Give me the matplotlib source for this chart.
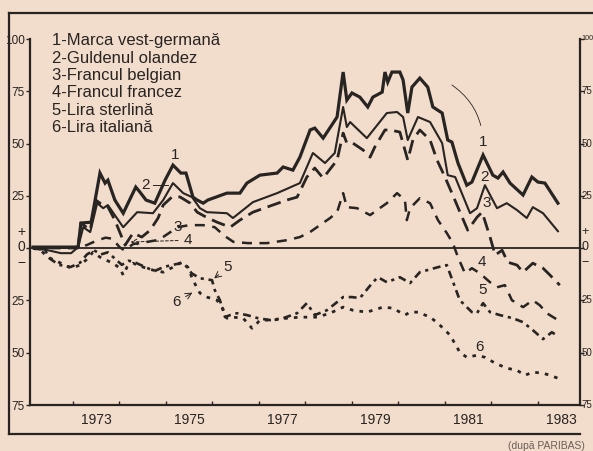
import matplotlib
matplotlib.use("Agg")
import matplotlib.pyplot as plt
from matplotlib.lines import Line2D

# --- data: % change vs. start of 1972 ---
s1_x = [1972.14, 1973.11, 1973.17, 1973.39, 1973.58, 1973.69, 1973.75, 1973.90, 1974.08, 1974.35, 1974.44,
        1974.57, 1974.76, 1974.98, 1975.15, 1975.32, 1975.43, 1975.58, 1975.67, 1975.80, 1975.90, 1976.31,
        1976.59, 1976.74, 1977.02, 1977.39, 1977.52, 1977.73, 1977.88, 1978.10, 1978.20, 1978.38, 1978.68,
        1978.81, 1978.89, 1979.00, 1979.17, 1979.34, 1979.45, 1979.65, 1979.71, 1979.77, 1979.86, 1980.03,
        1980.10, 1980.20, 1980.29, 1980.46, 1980.63, 1980.74, 1980.94, 1981.06, 1981.15, 1981.28, 1981.47,
        1981.58, 1981.82, 1982.03, 1982.14, 1982.25, 1982.40, 1982.68, 1982.87, 1983.00, 1983.15, 1983.43]
s1_y = [0.5, 0.5, 12, 12.4, 35.9, 31.1, 32.5, 23, 16.7, 29.2, 26.8, 23, 21.5, 32.5, 39.7, 35.9, 35.9, 24.4,
        23, 21.5, 23, 26.3, 26.3, 31.1, 34.9, 35.9, 38.8, 37.3, 43.5, 56.5, 57.4, 52.6, 62.7, 84.2, 70.8, 74.2,
        72.2, 67.5, 72.2, 74.6, 84.2, 79.4, 84.2, 84.2, 80.4, 64.6, 77, 81.3, 77, 67.5, 64.6, 51.7, 50.7, 40.7,
        30.1, 31.6, 44.5, 34.9, 33.5, 36.4, 31.1, 25.4, 34, 31.6, 31.1, 21.5]

s2_x = [1972.14, 1972.46, 1972.74, 1972.96, 1973.11, 1973.22, 1973.37, 1973.52, 1973.65, 1973.75, 1974.08,
        1974.38, 1974.72, 1974.94, 1975.15, 1975.37, 1975.56, 1975.73, 1975.88, 1976.31, 1976.44, 1976.87,
        1977.39, 1977.88, 1978.16, 1978.42, 1978.63, 1978.81, 1978.89, 1978.96, 1979.32, 1979.75, 1979.97,
        1980.10, 1980.20, 1980.42, 1980.68, 1980.94, 1981.06, 1981.22, 1981.54, 1981.69, 1981.86, 1982.12,
        1982.33, 1982.55, 1982.76, 1982.89, 1983.11, 1983.43]
s2_y = [0, -1, -2.4, -2.4, 0.5, 10, 7.7, 21.5, 19.1, 20.6, 10, 17.2, 16.7, 23, 31.1, 26.3, 24.4, 19.1, 17.2,
        16.7, 14.4, 22, 26.3, 31.1, 45.5, 40.7, 45.5, 67.5, 57.9, 60.3, 52.6, 64.6, 65.1, 62.7, 51.7, 62.7,
        60.3, 50.2, 34.9, 34, 16.7, 19.1, 30.1, 19.1, 21.5, 18.2, 14.4, 19.6, 16.7, 8.1]

s3_x = [1972.14, 1973.11, 1973.17, 1973.37, 1973.49, 1973.58, 1973.73, 1973.90, 1974.12, 1974.29, 1974.48,
        1974.66, 1974.83, 1974.94, 1975.13, 1975.30, 1975.52, 1975.67, 1975.90, 1976.10, 1976.38, 1976.59,
        1976.87, 1977.17, 1977.60, 1977.82, 1978.03, 1978.20, 1978.38, 1978.68, 1978.81, 1978.89, 1979.02,
        1979.24, 1979.39, 1979.49, 1979.71, 1979.82, 1980.03, 1980.20, 1980.31, 1980.46, 1980.68, 1980.83,
        1981.00, 1981.15, 1981.37, 1981.49, 1981.69, 1981.80, 1981.97, 1982.08, 1982.23, 1982.35, 1982.55,
        1982.68, 1982.89, 1983.11, 1983.26, 1983.47]
s3_y = [0, 0.5, 12, 8.6, 23, 21.5, 20.6, 13.4, 1.4, 7.2, 5.3, 8.6, 14.4, 20.6, 24.5, 24.5, 21.5, 17.2, 14.4,
        12.4, 10, 13.4, 17.2, 19.6, 23, 24.4, 34, 38.3, 33.5, 42.1, 55, 50.2, 50.2, 46.9, 43.5, 48.3, 56.5,
        56.5, 55.5, 42.1, 51.7, 56.5, 51.7, 42.1, 34, 26.3, 14.8, 8.6, 14.8, 17.2, 5.3, -3.3, -1, -6.7, -8.1,
        -11.5, -7.2, -9.6, -12.9, -17.7]

s4_x = [1972.14, 1973.11, 1973.30, 1973.50, 1973.70, 1973.85, 1974.00, 1974.10, 1974.30, 1974.60, 1974.85,
        1975.05, 1975.25, 1975.50, 1975.80, 1976.05, 1976.25, 1976.45, 1976.76, 1977.17, 1977.60, 1977.88,
        1978.10, 1978.31, 1978.53, 1978.68, 1978.81, 1978.89, 1979.11, 1979.39, 1979.54, 1979.75, 1979.97,
        1980.14, 1980.18, 1980.25, 1980.46, 1980.68, 1980.85, 1981.04, 1981.17, 1981.28, 1981.43, 1981.58,
        1981.75, 1981.97, 1982.12, 1982.29, 1982.44, 1982.68, 1982.89, 1983.04, 1983.19, 1983.43]
s4_y = [0, 0, 1.5, 3.5, 5, 4.5, 0.5, -1, 2, 3, 4, 7, 10, 11, 11, 10, 6, 3, 2.4, 2.4, 3.8, 5.3, 7.7, 11, 14.4,
        17.2, 26.3, 19.6, 19.1, 15.8, 18.2, 21.5, 26.3, 23, 13.4, 19.1, 23.9, 21.5, 13.4, 7.2, 2.4, -4.3, -12,
        -9.6, -12, -16.3, -18.7, -17.7, -24.9, -28.2, -24.9, -27.3, -31.1, -34.4]

s5_x = [1972.14, 1972.40, 1972.50, 1972.70, 1972.95, 1973.15, 1973.30, 1973.45, 1973.60, 1973.75, 1973.90,
        1974.05, 1974.20, 1974.35, 1974.55, 1974.75, 1974.95, 1975.15, 1975.35, 1975.45, 1975.55, 1975.73,
        1975.99, 1976.05, 1976.16, 1976.27, 1976.38, 1976.53, 1976.74, 1976.98, 1977.24, 1977.52, 1977.82,
        1978.03, 1978.20, 1978.46, 1978.68, 1978.81, 1979.00, 1979.17, 1979.45, 1979.56, 1979.75, 1980.03,
        1980.25, 1980.46, 1980.85, 1981.04, 1981.32, 1981.58, 1981.69, 1981.82, 1981.97, 1982.18, 1982.46,
        1982.68, 1982.89, 1983.11, 1983.30, 1983.43]
s5_y = [0, -1, -5, -8, -9, -7, -3, -1, -3, -2, -5, -8, -6, -7, -9, -11, -9, -8, -7, -9, -12, -14.4, -15.3,
        -20.1, -24.9, -33, -32, -31.1, -32, -33.5, -34.4, -33.5, -31.1, -26.3, -32, -29.7, -25.8, -23.4,
        -23.4, -23.9, -16.3, -13.9, -16.3, -13.9, -16.7, -11.5, -9.1, -8.1, -24.9, -30.6, -31.1, -26.3,
        -30.6, -32, -33.5, -35.4, -39.2, -43.5, -40.2, -42.1]

s6_x = [1972.14, 1972.30, 1972.46, 1972.74, 1972.96, 1973.15, 1973.28, 1973.43, 1973.58, 1973.71, 1973.86,
        1974.01, 1974.08, 1974.16, 1974.29, 1974.51, 1974.72, 1974.94, 1975.15, 1975.34, 1975.47, 1975.58,
        1975.73, 1975.88, 1976.10, 1976.27, 1976.31, 1976.44, 1976.66, 1976.85, 1976.96, 1977.02, 1977.30,
        1977.60, 1977.88, 1978.25, 1978.53, 1978.81, 1979.02, 1979.32, 1979.67, 1979.88, 1980.14, 1980.25,
        1980.42, 1980.68, 1980.85, 1981.11, 1981.32, 1981.47, 1981.69, 1981.86, 1982.08, 1982.33, 1982.55,
        1982.72, 1982.89, 1983.11, 1983.26, 1983.43]
s6_y = [0, -1, -4.3, -7.2, -9.6, -8.1, -5.7, -1.9, -4.3, -5.7, -7.2, -9.6, -12.9, -9.1, -7.2, -9.1, -10.5,
        -11.5, -9.1, -6.7, -9.1, -15.3, -21.5, -23.4, -24.9, -30.6, -33.5, -33, -33.5, -38.3, -35.9, -34.4,
        -34.4, -33.5, -33, -33, -31.1, -28.2, -29.7, -30.6, -28.2, -28.7, -32, -30.6, -30.6, -33, -35.9,
        -41.6, -49.8, -52.2, -51.2, -52.2, -55, -57.4, -58.4, -60.8, -59.3, -59.8, -60.8, -62.2]

legend_lines = ["1-Marca vest-germană", "2-Guldenul olandez", "3-Francul belgian",
                "4-Francul francez", "5-Lira sterlină", "6-Lira italiană"]
year_labels = ["1973", "1975", "1977", "1979", "1981", "1983"]
y_ticks = [100, 75, 50, 25, 0, -25, -50, -75]
y_labels = ["100", "75", "50", "25", "", "25", "50", "75"]

PAPER = "#f2dccb"
INK = "#282422"

plt.rcParams["font.family"] = ["Liberation Sans", "DejaVu Sans"]

fig = plt.figure(figsize=(5.93, 4.51), dpi=100, facecolor=PAPER)
ax = fig.add_axes([30 / 593, 46 / 451, 550 / 593, 366 / 451])
ax.set_facecolor(PAPER)

# series
ax.plot(s1_x, s1_y, color=INK, lw=2.3, solid_joinstyle="miter")
ax.plot(s2_x, s2_y, color=INK, lw=1.5)
ax.plot(s3_x, s3_y, color=INK, lw=2.0, dashes=(5, 2.5))
ax.plot(s4_x, s4_y, color=INK, lw=1.8, dashes=(4, 3))
ax.plot(s5_x, s5_y, color=INK, lw=1.9, dashes=(3, 1.8, 1.2, 1.8))
ax.plot(s6_x, s6_y, color=INK, lw=2.0, dashes=(1.3, 2.2))

ax.axhline(0, color=INK, lw=1.3)

ax.set_xlim(1972.075, 1983.905)
ax.set_ylim(-75, 100)

for side in ["left", "right", "bottom"]:
    ax.spines[side].set_color(INK)
    ax.spines[side].set_linewidth(1.6)
ax.spines["top"].set_visible(False)

ax.set_yticks(y_ticks)
ax.set_yticklabels(y_labels)
ax.tick_params(axis="y", which="both", direction="out", length=3, width=1, colors=INK,
               left=True, right=True, labelleft=True, labelright=False, labelsize=8.5, pad=1)
ax.set_xticks([int(y) + 0.5 for y in year_labels])
ax.set_xticklabels(year_labels)
ax.set_xticks(range(1973, 1984), minor=True)
ax.tick_params(axis="x", which="major", length=0, labelsize=10, colors=INK, pad=6)
ax.tick_params(axis="x", which="minor", direction="in", length=3, width=1, colors=INK)

# right-hand scale, squeezed against the page edge
tr = ax.get_yaxis_transform()
for v, s in zip(y_ticks, y_labels):
    if s:
        ax.text(1.003, v, s, transform=tr, ha="left", va="center",
                fontsize=5.2 if len(s) > 2 else 7, color=INK)

# "+ 0 -" marks at the zero line on both sides
for xa, ha, fs in [(-0.008, "right", 10), (1.003, "left", 9)]:
    ax.text(xa, 7.5, "+", transform=tr, ha=ha, va="center", fontsize=fs, color=INK)
    ax.text(xa, 0.5, "0", transform=tr, ha=ha, va="center", fontsize=fs, color=INK)
    ax.text(xa, -7.0, "−", transform=tr, ha=ha, va="center", fontsize=fs, color=INK)

# legend block
for i, txt in enumerate(legend_lines):
    ax.text(0.04, 0.995 - i * 0.0475, txt, transform=ax.transAxes, ha="left", va="center",
            fontsize=12, color=INK)

# series numbers on the chart
lab = dict(fontsize=11, color=INK, ha="center", va="center")
ax.text(1975.19, 44.5, "1", **lab)
ax.text(1974.57, 30.1, "2", **lab)
ax.plot([1974.72, 1975.05], [30.1, 30.1], color=INK, lw=0.7)
ax.text(1975.26, 10, "3", **lab)
ax.annotate("4", xy=(1974.18, 2.9), xytext=(1975.47, 3.8), **lab,
            arrowprops=dict(arrowstyle="->", color=INK, lw=0.7, linestyle=(0, (3, 2))))
ax.annotate("5", xy=(1975.99, -15.3), xytext=(1976.33, -9.1), **lab,
            arrowprops=dict(arrowstyle="->", color=INK, lw=0.7))
ax.annotate("6", xy=(1975.62, -20.6), xytext=(1975.22, -25.8), **lab,
            arrowprops=dict(arrowstyle="->", color=INK, lw=0.7))

ax.annotate("1", xy=(1981.15, 78), xytext=(1981.82, 50.7), **lab,
            arrowprops=dict(arrowstyle="-", color=INK, lw=0.6, connectionstyle="arc3,rad=0.25",
                            shrinkA=5, shrinkB=0))
ax.text(1981.86, 34, "2", **lab)
ax.text(1981.90, 21.5, "3", **lab)
ax.text(1981.80, -6.7, "4", **lab)
ax.text(1981.80, -20, "5", **lab)
ax.text(1981.75, -47.4, "6", **lab)

# outer frame of the figure (right side runs off the page)
for xs, ys in [([9, 9], [13, 434]), ([9, 593], [13, 13]), ([9, 580], [434, 434])]:
    fig.add_artist(Line2D([x / 593 for x in xs], [1 - y / 451 for y in ys], color=INK, lw=1.6))

fig.text(585 / 593, 1 - 446 / 451, "(după PARIBAS)", ha="right", va="center", fontsize=7.5, color="#6a5f58")

fig.savefig("out.png", dpi=100, facecolor=PAPER)
